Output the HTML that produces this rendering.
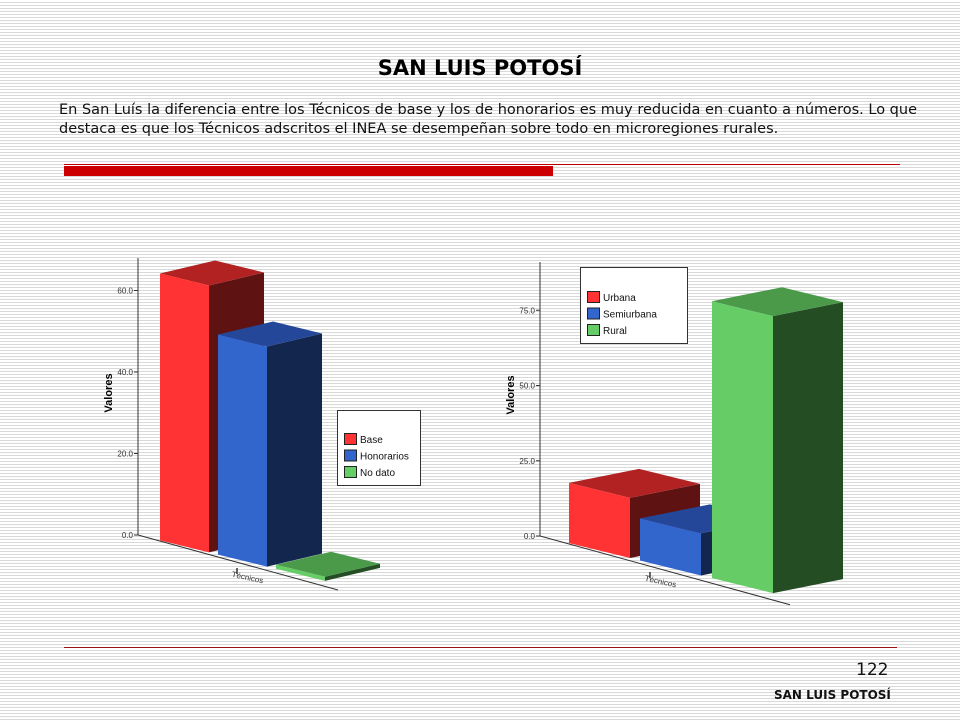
<!DOCTYPE html>
<html><head><meta charset="utf-8">
<style>
html,body{margin:0;padding:0}
body{width:960px;height:720px;position:relative;overflow:hidden;font-family:"DejaVu Sans","Liberation Sans",sans-serif;
background:repeating-linear-gradient(to bottom,#fff 0px,#fff 2px,#d9d9d9 2px,#d9d9d9 3px);}
.abs{position:absolute}
#title{left:0;width:960px;top:56px;text-align:center;font-weight:bold;font-size:21px;color:#000}
#para{left:59px;width:858px;top:101px;font-size:14.5px;line-height:19px;text-align:justify;color:#111}
</style></head><body>
<div class="abs" id="title">SAN LUIS POTOSÍ</div>
<div class="abs" id="para">En San Luís la diferencia entre los Técnicos de base y los de honorarios es muy reducida en cuanto a números. Lo que destaca es que los Técnicos adscritos el INEA se desempeñan sobre todo en microregiones rurales.</div>
<div class="abs" style="left:64px;top:164px;width:836px;height:1px;background:#c00000"></div>
<div class="abs" style="left:64px;top:166px;width:489px;height:10px;background:#cc0000"></div>
<div class="abs" style="left:64px;top:647px;width:833px;height:1px;background:#a01010"></div>
<div class="abs" style="left:856px;top:660px;font-size:17px;color:#111">122</div>
<div class="abs" style="left:774px;top:688px;font-size:12px;font-weight:bold;color:#111">SAN LUIS POTOSÍ</div>
<svg class="abs" style="left:0;top:0" width="960" height="720" id="svg"></svg>
<script>
// Left chart data
const leftCats=["Base","Honorarios","No dato"];
const leftVals=[65.5,54,1];
const leftTicks=["0.0","20.0","40.0","60.0"];
const leftTickVals=[0,20,40,60];
// Right chart data
const rightCats=["Urbana","Semiurbana","Rural"];
const rightVals=[20,14,92];
const rightTicks=["0.0","25.0","50.0","75.0"];
const rightTickVals=[0,25,50,75];

const NS="http://www.w3.org/2000/svg";
const svg=document.getElementById('svg');
function mk(tag,attrs,parent){const e=document.createElementNS(NS,tag);for(const k in attrs)e.setAttribute(k,attrs[k]);(parent||svg).appendChild(e);return e;}
const front=["#ff3333","#3366cc","#66cc66"],top_=["#b22222","#24479a","#4a9a4a"],side=["#5e1212","#13264d","#244d24"];
function chart(cfg,cats,vals,ticks,tickVals){
  const g=mk('g',{});
  
  
  const y=v=>cfg.y0-v*cfg.k;
  // axis
  const ax=mk('line',{x1:cfg.ax,y1:cfg.top,x2:cfg.ax,y2:cfg.y0,stroke:"#333","stroke-width":1},g);
  
  const fl=mk('line',{x1:cfg.ax,y1:cfg.y0,x2:cfg.floorX,y2:cfg.y0+(cfg.floorX-cfg.ax)*cfg.fslope,stroke:"#333","stroke-width":1},g);
  
  tickVals.forEach((tv,i)=>{
    const t=mk('line',{x1:cfg.ax-4,y1:y(tv),x2:cfg.ax,y2:y(tv),stroke:"#333"},g);
    
    const tx=mk('text',{x:cfg.ax-5,y:y(tv)+3,"font-size":8,"text-anchor":"end","font-family":"Liberation Sans, sans-serif",fill:"#333"},g);
    tx.textContent=ticks[i];
    
  });
  const yt=mk('text',{x:0,y:0,"font-size":11,"font-weight":"bold","text-anchor":"middle","font-family":"Liberation Sans, sans-serif",transform:`translate(${cfg.ax-26},${cfg.titleY}) rotate(-90)`},g);
  yt.textContent="Valores";
  const xl=mk('text',{x:0,y:0,"font-size":8,"text-anchor":"middle","font-family":"Liberation Sans, sans-serif",fill:"#333",transform:`translate(${cfg.xlab},${cfg.xlabY}) rotate(12)`},g);
  xl.textContent="Técnicos";
  mk('line',{x1:cfg.xlab-10,y1:cfg.xlabY-12,x2:cfg.xlab-10,y2:cfg.xlabY-6,stroke:"#333","stroke-width":1.5},g);
  // bars
  vals.forEach((v,i)=>{
    const x1=cfg.bx[i],x2=x1+cfg.bw;
    const b1=cfg.y0+(x1-cfg.ax)*cfg.slope,b2=b1+cfg.bw*cfg.slope;
    const h=v*cfg.k,t1=b1-h,t2=b2-h;
    const [dx,dy]=cfg.d;
    const bg=mk('g',{},g);
    
    
    mk('polygon',{points:`${x2},${t2} ${x2+dx},${t2+dy} ${x2+dx},${b2+dy} ${x2},${b2}`,fill:side[i]},bg);
    mk('polygon',{points:`${x1},${t1} ${x1+dx},${t1+dy} ${x2+dx},${t2+dy} ${x2},${t2}`,fill:top_[i]},bg);
    mk('polygon',{points:`${x1},${t1} ${x2},${t2} ${x2},${b2} ${x1},${b1}`,fill:front[i]},bg);
  });
  // legend
  const L=cfg.leg;
  const lg=mk('g',{},g);
  
  mk('rect',{x:L[0]+0.5,y:L[1]+0.5,width:L[2],height:L[3],fill:"#fff",stroke:"#333"},lg);
  cats.forEach((c,i)=>{
    const yy=L[1]+L[4]+i*16.5;
    const e=mk('g',{},lg);
    
    mk('rect',{x:L[0]+7.5,y:yy+0.5,width:12,height:11,fill:front[i],stroke:"#222"},e);
    const tx=mk('text',{x:L[0]+23,y:yy+10,"font-size":10,"font-family":"Liberation Sans, sans-serif",fill:"#111"},e);
    tx.textContent=c;
  });
}
chart({name:"left-chart",ax:138,top:258,y0:535,k:4.075,slope:0.245,fslope:0.275,floorX:338,bx:[160,218,276],bw:49,d:[55,-13],
  leg:[337,410,83,75,23],titleY:393,xlab:247,xlabY:580},leftCats,leftVals,leftTicks,leftTickVals);
chart({name:"right-chart",ax:540,top:262,y0:536,k:3.01,slope:0.245,fslope:0.275,floorX:790,bx:[569,640,712],bw:61,d:[70,-14],
  leg:[580,267,107,76,24],titleY:395,xlab:660,xlabY:584},rightCats,rightVals,rightTicks,rightTickVals);
</script>
</body></html>
